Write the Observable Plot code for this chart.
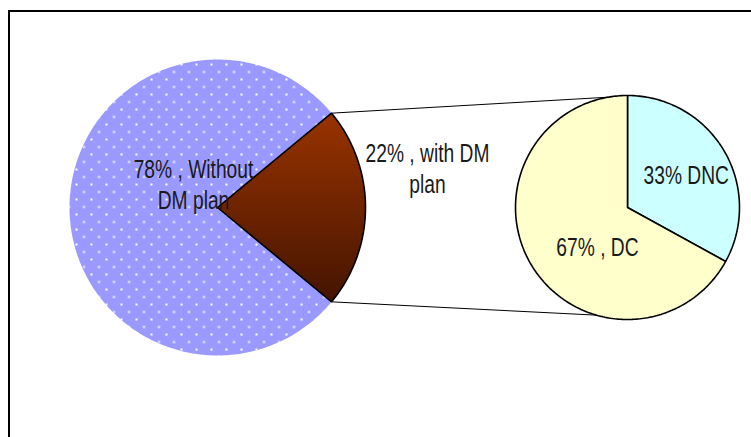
<!DOCTYPE html>
<html><head><meta charset="utf-8">
<script src="https://cdn.jsdelivr.net/npm/d3@7"></script>
<script src="https://cdn.jsdelivr.net/npm/@observablehq/plot@0.6"></script>
<style>
html,body{margin:0;padding:0;background:#fff;overflow:hidden;}
#wrap{position:relative;width:751px;height:437px;overflow:hidden;}
#border{position:absolute;left:8px;top:10px;width:800px;height:500px;border-top:2px solid #000;border-left:2px solid #000;pointer-events:none;z-index:2;}
#wrap svg{position:absolute;left:0;top:0;overflow:visible;}
</style></head><body><div id="wrap"><div id="border"></div></div>
<script>
// ---- data ----
const mainCategories = ["Without DM plan", "with DM plan"];
const mainValues = [78, 22];
const mainLabels = ["78% , Without\nDM plan", "22% , with DM\nplan"];
const subCategories = ["DNC", "DC"];
const subValues = [33, 67];
const subLabels = ["33% DNC", "67% , DC"];

// ---- layout ----
const W = 751, H = 437;
const main = {cx: 217, cy: 207, r: 148};
const sub = {cx: 627, cy: 207, r: 112};
const mainLabelOffsets = [[-24, -24], [210, -40]];
const subLabelOffsets = [[16, -34], [-30, 38]];
const connectorSubAngles = [-100, 106]; // degrees, where the connector lines meet the secondary pie

function arcPoly(c, t0, t1, key) {
  const pts = [{x: c.cx, y: c.cy, key}];
  const n = Math.max(8, Math.ceil(Math.abs(t1 - t0) / (Math.PI / 180)));
  for (let i = 0; i <= n; i++) {
    const t = t0 + (t1 - t0) * i / n;
    pts.push({x: c.cx + c.r * Math.cos(t), y: c.cy + c.r * Math.sin(t), key});
  }
  return pts;
}

// main pie: "other" slice centred on the right
const mainTotal = d3.sum(mainValues);
const half = Math.PI * mainValues[1] / mainTotal;
const mainRest = arcPoly(main, half, 2 * Math.PI - half, mainCategories[0]);
const mainWedge = arcPoly(main, -half, half, mainCategories[1]);

// secondary pie: starting at 12 o'clock, clockwise
const subTotal = d3.sum(subValues);
let acc = -Math.PI / 2;
const subPolys = subValues.map((v, i) => {
  const t0 = acc, t1 = acc + 2 * Math.PI * v / subTotal;
  acc = t1;
  return arcPoly(sub, t0, t1, subCategories[i]);
});

const rad = d => d * Math.PI / 180;
const connectors = [
  {x1: main.cx + main.r * Math.cos(-half), y1: main.cy + main.r * Math.sin(-half),
   x2: sub.cx + sub.r * Math.cos(rad(connectorSubAngles[0])), y2: sub.cy + sub.r * Math.sin(rad(connectorSubAngles[0]))},
  {x1: main.cx + main.r * Math.cos(half), y1: main.cy + main.r * Math.sin(half),
   x2: sub.cx + sub.r * Math.cos(rad(connectorSubAngles[1])), y2: sub.cy + sub.r * Math.sin(rad(connectorSubAngles[1]))}
];

const mainText = mainLabels.map((t, i) => ({t, x: main.cx + mainLabelOffsets[i][0], y: main.cy + mainLabelOffsets[i][1]}));
const subText = subLabels.map((t, i) => ({t, x: sub.cx + subLabelOffsets[i][0], y: sub.cy + subLabelOffsets[i][1]}));

const font = "'Liberation Sans', Arial, sans-serif";
const textOpts = {x: "x", y: "y", text: "t", fontSize: 26, lineHeight: 1.2, fill: "#1a1a1a", fontFamily: font};

const chart = Plot.plot({
  width: W, height: H,
  marginLeft: 0, marginTop: 0, marginBottom: 0, marginRight: 17,
  x: {domain: [0, W - 17], range: [0, W - 17], axis: null},
  y: {domain: [0, H], range: [0, H], axis: null},
  marks: [
    Plot.line(mainRest, {x: "x", y: "y", curve: "linear-closed", fill: "url(#dots)", stroke: "none"}),
    Plot.line(mainWedge, {x: "x", y: "y", curve: "linear-closed", fill: "url(#wedgeGrad)", stroke: "#000", strokeWidth: 1.6, strokeLinejoin: "miter"}),
    Plot.link(connectors, {x1: "x1", y1: "y1", x2: "x2", y2: "y2", stroke: "#000", strokeWidth: 1}),
    Plot.line(subPolys[0], {x: "x", y: "y", curve: "linear-closed", fill: "#CCFFFF", stroke: "#000", strokeWidth: 1.6, strokeLinejoin: "miter"}),
    Plot.line(subPolys[1], {x: "x", y: "y", curve: "linear-closed", fill: "#FFFFCC", stroke: "#000", strokeWidth: 1.6, strokeLinejoin: "miter"}),
    Plot.text(mainText, {...textOpts, textAnchor: "middle"}),
    Plot.text([subText[0]], {...textOpts, textAnchor: "start", clip: "frame"}),
    Plot.text([subText[1]], {...textOpts, textAnchor: "middle"})
  ]
});

const svg = d3.select(chart);
const defs = svg.insert("defs", ":first-child");
const pat = defs.append("pattern").attr("id", "dots").attr("patternUnits", "userSpaceOnUse")
  .attr("width", 15).attr("height", 15).attr("x", 0).attr("y", 3);
pat.append("rect").attr("width", 15).attr("height", 15).attr("fill", "#9999FF");
pat.append("rect").attr("x", 0).attr("y", 0).attr("width", 2).attr("height", 2).attr("fill", "#ffffff");
pat.append("rect").attr("x", 7.5).attr("y", 7.5).attr("width", 2).attr("height", 2).attr("fill", "#ffffff");
const grad = defs.append("linearGradient").attr("id", "wedgeGrad").attr("x1", 0).attr("y1", 0).attr("x2", 0).attr("y2", 1);
grad.append("stop").attr("offset", "0%").attr("stop-color", "#993300");
grad.append("stop").attr("offset", "100%").attr("stop-color", "#441400");

// condensed look of the original labels
svg.selectAll("text").each(function() {
  const tr = this.getAttribute("transform") || "";
  this.setAttribute("transform", tr + " scale(0.74,1)");
});

document.getElementById("wrap").appendChild(chart);
</script>
</body></html>
